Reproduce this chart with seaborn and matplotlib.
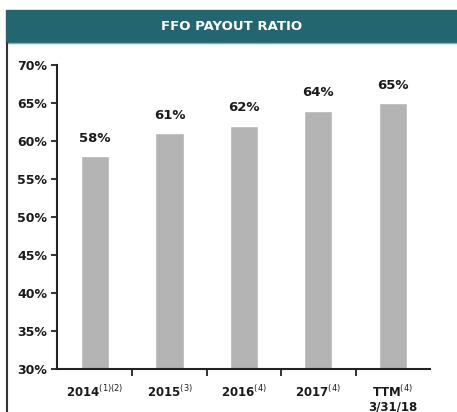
import numpy as np
import pandas as pd
import matplotlib
matplotlib.use("Agg")
import matplotlib.pyplot as plt
import seaborn as sns
from matplotlib.patches import Rectangle
from matplotlib.lines import Line2D

periods = ['2014$^{(1)(2)}$', '2015$^{(3)}$', '2016$^{(4)}$', '2017$^{(4)}$', 'TTM$^{(4)}$\n3/31/18']
payout = [58, 61, 62, 64, 65]
y_ticks = [30, 35, 40, 45, 50, 55, 60, 65, 70]

df = pd.DataFrame({'period': periods, 'payout': payout})

sns.set_theme(style="white")
plt.rcParams['font.family'] = ['DejaVu Sans']
plt.rcParams['mathtext.fontset'] = 'dejavusans'

fig = plt.figure(figsize=(4.57, 4.12), dpi=100)
ax = fig.add_axes([57/457, 1-369/412, (430-57)/457, (369-65)/412])

sns.barplot(data=df, x='period', y='payout', color='#b4b4b4', width=0.38,
            saturation=1, ax=ax)

ax.set_ylim(30, 70)
ax.set_xlim(-0.51, 4.5)
ax.set_yticks(y_ticks)
ax.set_yticklabels([f'{v}%' for v in y_ticks], fontsize=9, fontweight='bold', color='#1a1a1a')
ax.set_xlabel('')
ax.set_ylabel('')
ax.set_xticks(range(len(periods)))
ax.set_xticklabels(periods, fontsize=8.5, fontweight='bold', color='#1a1a1a', linespacing=1.0)
ax.set_xticks(np.arange(0.5, len(periods) - 1, 1), minor=True)
ax.tick_params(axis='x', which='major', length=0, pad=11)
ax.tick_params(axis='x', which='minor', bottom=True, length=5, width=1.3,
               color='#222222', direction='out')
ax.tick_params(axis='y', length=4, width=1.3, color='#222222', direction='out', left=True, pad=3)

for s in ['top', 'right']:
    ax.spines[s].set_visible(False)
for s in ['left', 'bottom']:
    ax.spines[s].set_color('#222222')
    ax.spines[s].set_linewidth(1.5)

for i, v in enumerate(payout):
    ax.text(i, v + 1.5, f'{v}%', ha='center', va='bottom', fontsize=9.5,
            fontweight='bold', color='#1a1a1a')

# header band and frame
fig.patches.append(Rectangle((6/457, 1-42/412), 1, 32/412, transform=fig.transFigure,
                             color='#23666f', zorder=0))
fig.lines.append(Line2D([6/457, 1], [1-43/412, 1-43/412], transform=fig.transFigure,
                        color='#7fa9ae', lw=1))
fig.lines.append(Line2D([7/457, 7/457], [0, 1-43/412], transform=fig.transFigure,
                        color='#333333', lw=1.5))
fig.text(232/457, 1-26/412, 'FFO PAYOUT RATIO', ha='center', va='center',
         color='white', fontsize=9.5, fontweight='bold')

fig.savefig('out.png', dpi=100)
